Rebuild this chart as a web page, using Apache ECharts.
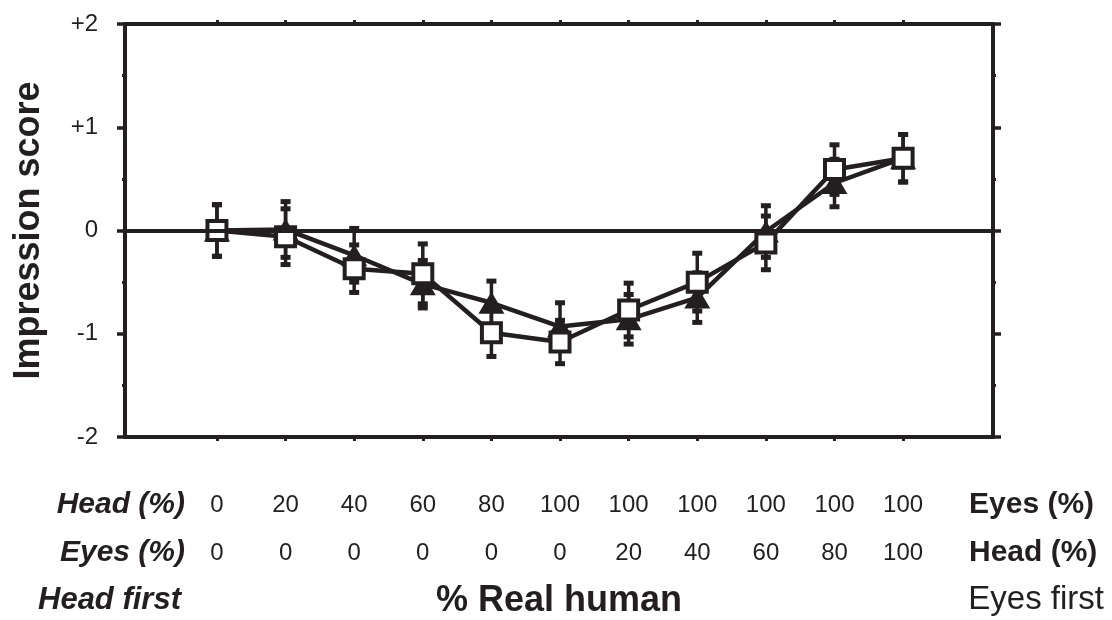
<!DOCTYPE html>
<html>
<head>
<meta charset="utf-8">
<script src="https://cdn.jsdelivr.net/npm/echarts@6/dist/echarts.min.js"></script>
<style>
  html, body { margin: 0; padding: 0; background: #ffffff; }
  #chart { width: 1112px; height: 620px; }
</style>
</head>
<body>
<div id="chart"></div>
<script>
// ---- data ----
var positions = [0, 1, 2, 3, 4, 5, 6, 7, 8, 9, 10];
var headPct = ['0', '20', '40', '60', '80', '100', '100', '100', '100', '100', '100'];
var eyesPct = ['0', '0', '0', '0', '0', '0', '20', '40', '60', '80', '100'];
var yTickLabels = { '-2': '-2', '-1': '-1', '0': '0', '1': '+1', '2': '+2' };

// open squares
var squareMean = [0.00, -0.06, -0.37, -0.42, -0.99, -1.08, -0.77, -0.50, -0.12, 0.59, 0.70];
var squareErr  = [0.25, 0.27, 0.23, 0.29, 0.23, 0.21, 0.26, 0.28, 0.26, 0.24, 0.23];
// filled triangles
var triMean = [0.00, 0.01, -0.24, -0.52, -0.70, -0.93, -0.86, -0.65, -0.01, 0.46, 0.70];
var triErr  = [0.25, 0.27, 0.26, 0.23, 0.21, 0.23, 0.24, 0.24, 0.25, 0.23, 0.23];

var INK = '#231f20';
var FONT = "'Liberation Sans', Arial, Helvetica, sans-serif";

function pairs(ys) { return positions.map(function (x, i) { return [x, ys[i]]; }); }
function errData(ys, es) { return positions.map(function (x, i) { return [x, ys[i] - es[i], ys[i] + es[i]]; }); }

function renderErr(params, api) {
  var x = api.value(0);
  var lo = api.coord([x, api.value(1)]);
  var hi = api.coord([x, api.value(2)]);
  var cw = 5;
  var st = { stroke: INK, lineWidth: 3.5 };
  var capSt = { stroke: INK, lineWidth: 5 };
  return {
    type: 'group',
    children: [
      { type: 'line', shape: { x1: lo[0], y1: lo[1], x2: hi[0], y2: hi[1] }, style: st },
      { type: 'line', shape: { x1: lo[0] - cw, y1: lo[1], x2: lo[0] + cw, y2: lo[1] }, style: capSt },
      { type: 'line', shape: { x1: hi[0] - cw, y1: hi[1], x2: hi[0] + cw, y2: hi[1] }, style: capSt }
    ]
  };
}

var chart = echarts.init(document.getElementById('chart'), null, { renderer: 'canvas' });

var axisLineStyle = { color: INK, width: 4 };

var option = {
  animation: false,
  backgroundColor: '#ffffff',
  textStyle: { fontFamily: FONT, color: INK },
  grid: { left: 125, right: 119, top: 24, bottom: 183, containLabel: false, outerBoundsMode: 'none' },
  xAxis: [
    {
      type: 'value', position: 'bottom', min: -1.34, max: 11.31,
      axisLine: { show: true, onZero: false, lineStyle: axisLineStyle },
      axisTick: { show: true, inside: false, length: 4, lineStyle: { color: INK, width: 3 }, customValues: positions },
      splitLine: { show: false },
      axisLabel: {
        show: true, customValues: positions, margin: 44,
        fontFamily: FONT, color: INK,
        formatter: function (v) {
          var i = Math.round(v);
          return '{h|' + headPct[i] + '}\n{e|' + eyesPct[i] + '}';
        },
        rich: {
          h: { fontSize: 24, lineHeight: 48, fontFamily: FONT, color: INK },
          e: { fontSize: 24, lineHeight: 48, fontFamily: FONT, color: INK }
        }
      },
      name: '% Real human', nameLocation: 'middle', nameGap: 146,
      nameTextStyle: { fontSize: 36, fontWeight: 'bold', fontFamily: FONT, color: INK }
    },
    {
      type: 'value', position: 'top', min: -1.34, max: 11.31,
      axisLine: { show: true, onZero: false, lineStyle: axisLineStyle },
      axisTick: { show: true, inside: false, length: 4, lineStyle: { color: INK, width: 3 }, customValues: positions },
      splitLine: { show: false },
      axisLabel: { show: false }
    }
  ],
  yAxis: [
    {
      type: 'value', position: 'left', min: -2, max: 2, interval: 1,
      axisLine: { show: true, onZero: false, lineStyle: axisLineStyle },
      axisTick: { show: true, inside: false, length: 8, lineStyle: { color: INK, width: 3.5 } },
      minorTick: { show: true, splitNumber: 2, length: 3, lineStyle: { color: INK, width: 3 } },
      splitLine: { show: false },
      axisLabel: {
        show: true, margin: 27, fontSize: 24, fontFamily: FONT, color: INK,
        formatter: function (v) { return yTickLabels[String(v)]; }
      },
      name: 'Impression score', nameLocation: 'middle', nameGap: 78, nameRotate: 90,
      nameTextStyle: { fontSize: 36, fontWeight: 'bold', fontFamily: FONT, color: INK }
    },
    {
      type: 'value', position: 'right', min: -2, max: 2, interval: 1,
      axisLine: { show: true, onZero: false, lineStyle: axisLineStyle },
      axisTick: { show: true, inside: false, length: 8, lineStyle: { color: INK, width: 3.5 } },
      minorTick: { show: true, splitNumber: 2, length: 3, lineStyle: { color: INK, width: 3 } },
      splitLine: { show: false },
      axisLabel: { show: false }
    }
  ],
  series: [
    {
      type: 'custom', name: 'err-tri', z: 1, xAxisIndex: 0, yAxisIndex: 0,
      renderItem: renderErr, data: errData(triMean, triErr), silent: true,
      markLine: {
        silent: true, symbol: ['none', 'none'], label: { show: false },
        lineStyle: { color: INK, width: 4, type: 'solid' },
        data: [{ yAxis: 0 }]
      }
    },
    {
      type: 'custom', name: 'err-sq', z: 1, xAxisIndex: 0, yAxisIndex: 0,
      renderItem: renderErr, data: errData(squareMean, squareErr), silent: true
    },
    {
      type: 'line', name: 'triangles', z: 3, data: pairs(triMean),
      symbol: 'triangle', symbolSize: [26, 22], showSymbol: true,
      lineStyle: { color: INK, width: 4.5 },
      itemStyle: { color: INK, borderColor: INK, borderWidth: 0 }
    },
    {
      type: 'line', name: 'squares', z: 4, data: pairs(squareMean),
      symbol: 'rect', symbolSize: 19, showSymbol: true,
      lineStyle: { color: INK, width: 4.5 },
      itemStyle: { color: '#ffffff', borderColor: INK, borderWidth: 4 }
    }
  ],
  graphic: [
    { type: 'text', x: 185, y: 505, style: { text: 'Head (%)', align: 'right', verticalAlign: 'middle', font: 'italic bold 30px ' + FONT, fill: INK } },
    { type: 'text', x: 185, y: 553, style: { text: 'Eyes (%)', align: 'right', verticalAlign: 'middle', font: 'italic bold 30px ' + FONT, fill: INK } },
    { type: 'text', x: 969, y: 505, style: { text: 'Eyes (%)', align: 'left', verticalAlign: 'middle', font: 'bold 30px ' + FONT, fill: INK } },
    { type: 'text', x: 969, y: 553, style: { text: 'Head (%)', align: 'left', verticalAlign: 'middle', font: 'bold 30px ' + FONT, fill: INK } },
    { type: 'text', x: 38, y: 600, style: { text: 'Head first', align: 'left', verticalAlign: 'middle', font: 'italic bold 31px ' + FONT, fill: INK } },
    { type: 'text', x: 1104, y: 600, style: { text: 'Eyes first', align: 'right', verticalAlign: 'middle', font: '33px ' + FONT, fill: INK } }
  ]
};

chart.setOption(option);
</script>
</body>
</html>
